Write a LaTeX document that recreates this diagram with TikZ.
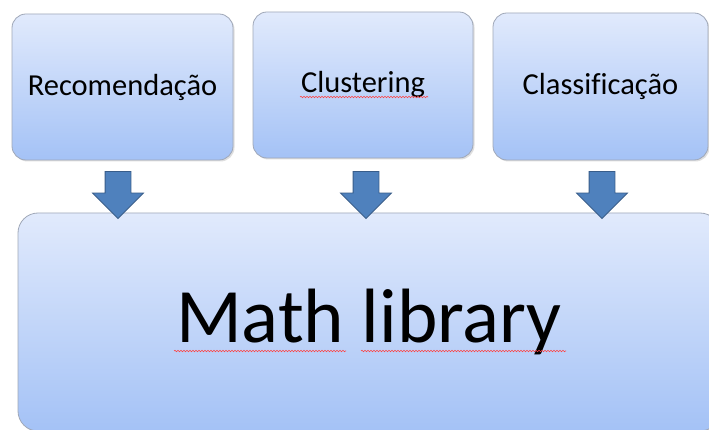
\documentclass[tikz,border=0pt]{standalone}
\usepackage{fontspec}
\setmainfont{Carlito}[Ligatures=NoCommon]
\usetikzlibrary{shapes.arrows,shadows,decorations.pathmorphing}
\definecolor{boxtop}{RGB}{225,234,252}
\definecolor{boxbot}{RGB}{164,194,246}
\definecolor{boxline}{RGB}{160,168,184}
\definecolor{arrowfill}{RGB}{79,129,189}
\definecolor{arrowline}{RGB}{56,93,138}
\tikzset{
        module/.style={rectangle, rounded corners=14pt, draw=boxline, line width=0.8pt, top color=boxtop, bottom color=boxbot,
          drop shadow={shadow xshift=1.5pt, shadow yshift=-1.5pt, opacity=0.25}, inner sep=0pt, font=\fontsize{30.5}{36}\selectfont},
        bigmodule/.style={module, rounded corners=20pt, font=\fontsize{77}{90}\selectfont},
        flow/.style={single arrow, draw=arrowline, fill=arrowfill, line width=0.8pt, minimum height=47pt,
          inner xsep=0pt, inner ysep=12.5pt, single arrow head extend=12.5pt, rotate=-90},
        spell/.style={draw=red!75!white, line width=0.6pt, decorate, decoration={snake, amplitude=0.7pt, segment length=3pt}}
          }
\begin{document}
\begin{tikzpicture}[x=1pt, y=-1pt]
      \clip (0,0) rectangle (709,430);
      \fill[white] (0,0) rectangle (709,430);
      \node[module, minimum width=221pt, minimum height=146pt] (rec) at (122.5,87) {Recomendação};
      \node[module, minimum width=220pt, minimum height=146pt] (clust) at (363,85) {Clustering};
      \node[module, minimum width=215pt, minimum height=147pt] (classif) at (600.5,86.5) {Classificação};
      \node[bigmodule, minimum width=702pt, minimum height=218pt] (mathlib) at (369,322) {Math library};
      \node[flow] (a1) at (118,188.5) {};
      \node[flow] (a2) at (366,188.5) {};
      \node[flow] (a3) at (602,188.5) {};
      \draw[spell] (300,97) -- (428,97);
      \draw[spell] (174,351) -- (346,351);
      \draw[spell] (361,351) -- (566,351);
    \end{tikzpicture}
\end{document}
